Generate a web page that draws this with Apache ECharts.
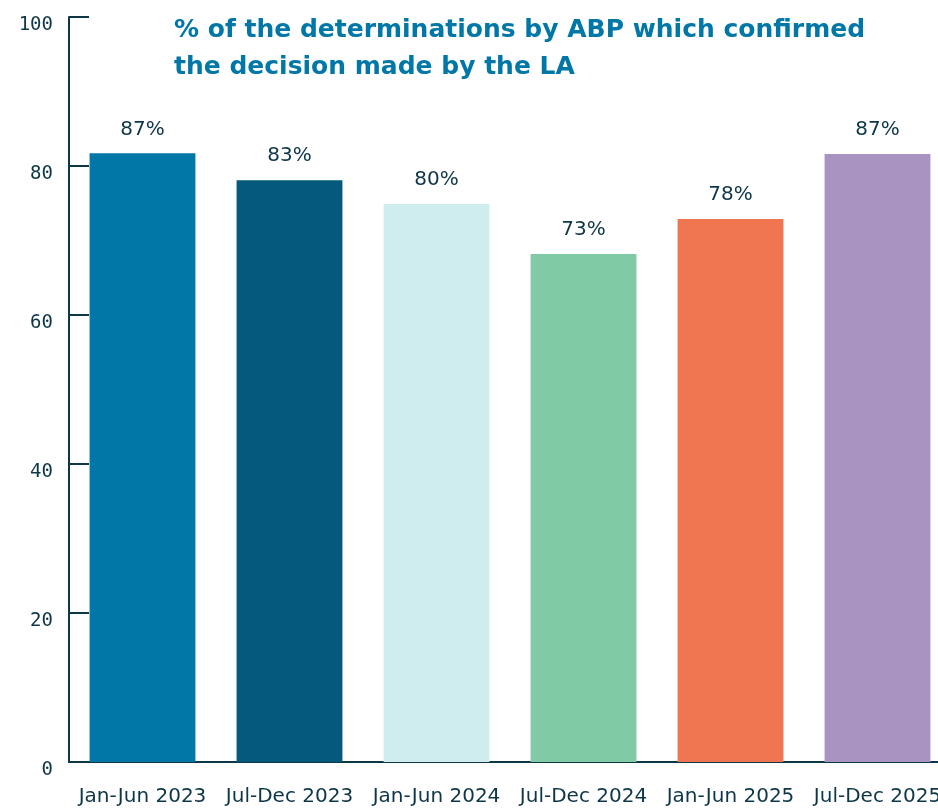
<!DOCTYPE html>
<html>
<head>
<meta charset="utf-8">
<title>ABP determinations</title>
<script src="https://cdn.jsdelivr.net/npm/echarts@6/dist/echarts.min.js"></script>
<style>
  html, body { margin: 0; padding: 0; background: #fff; }
  #chart { width: 938px; height: 808px; }
</style>
</head>
<body>
<div id="chart"></div>
<script>
  // categories and values
  var categories = ['Jan-Jun 2023', 'Jul-Dec 2023', 'Jan-Jun 2024', 'Jul-Dec 2024', 'Jan-Jun 2025', 'Jul-Dec 2025'];
  // bar heights as drawn against the y axis
  var barValues = [81.7, 78.1, 74.9, 68.2, 72.9, 81.6];
  // labels printed above the bars
  var valueLabels = ['87%', '83%', '80%', '73%', '78%', '87%'];
  var barColors = ['#0077A6', '#055A7B', '#CFECEE', '#80CBA5', '#F07651', '#A994C1'];
  var yTicks = [0, 20, 40, 60, 80, 100];

  var ink = '#0D3646';

  var myChart = echarts.init(document.getElementById('chart'));
  myChart.setOption({
    backgroundColor: '#fff',
    animation: false,
    title: {
      text: '% of the determinations by ABP which confirmed\nthe decision made by the LA',
      left: 174,
      top: 12,
      padding: 0,
      textStyle: {
        fontFamily: 'DejaVu Sans',
        fontWeight: 'bold',
        fontSize: 25,
        lineHeight: 37,
        color: '#0077A6'
      }
    },
    grid: {
      left: 69,
      top: 17,
      width: 882,
      height: 745,
      containLabel: false,
      outerBoundsMode: 'none'
    },
    xAxis: {
      type: 'category',
      data: categories,
      axisLine: { lineStyle: { color: ink, width: 2 } },
      axisTick: { inside: true, length: 18, lineStyle: { color: ink, width: 2 } },
      axisLabel: {
        margin: 25,
        interval: 0,
        fontFamily: 'DejaVu Sans',
        fontSize: 20,
        color: ink
      }
    },
    yAxis: {
      type: 'value',
      min: yTicks[0],
      max: yTicks[yTicks.length - 1],
      interval: 20,
      splitLine: { show: false },
      axisLine: { show: true, lineStyle: { color: ink, width: 2 } },
      axisTick: { show: true, inside: true, length: 20, lineStyle: { color: ink, width: 2 } },
      axisLabel: {
        margin: 16,
        verticalAlign: 'top',
        lineHeight: 17,
        fontFamily: 'DejaVu Sans Mono',
        fontSize: 19,
        color: ink
      }
    },
    series: [{
      type: 'bar',
      data: barValues,
      barCategoryGap: '28%',
      itemStyle: {
        color: function (params) {
          return barColors[params.dataIndex];
        }
      },
      label: {
        show: true,
        position: 'top',
        distance: 14,
        fontFamily: 'DejaVu Sans',
        fontSize: 20,
        color: ink,
        formatter: function (params) {
          return valueLabels[params.dataIndex];
        }
      }
    }]
  });
</script>
</body>
</html>
